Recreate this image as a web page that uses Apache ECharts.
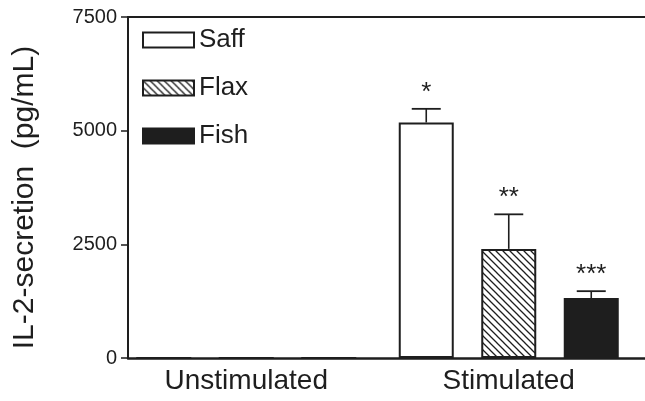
<!DOCTYPE html>
<html>
<head>
<meta charset="utf-8">
<script src="https://cdn.jsdelivr.net/npm/echarts@6/dist/echarts.min.js"></script>
<style>
  html, body { margin: 0; padding: 0; background: #fff; }
  #chart { width: 645px; height: 401px; }
</style>
</head>
<body>
<div id="chart"></div>
<script>
// IL-2 secretion by diet group, unstimulated vs stimulated cells
var categories = ['Unstimulated', 'Stimulated'];
var seriesNames = ['Saff', 'Flax', 'Fish'];
var saffValues = [0, 5180];
var flaxValues = [0, 2400];
var fishValues = [0, 1320];
// upper end of the SEM whisker (null where none is drawn)
var saffErrTop = [null, 5480];
var flaxErrTop = [null, 3160];
var fishErrTop = [null, 1470];
var saffMarks = ['', '*'];
var flaxMarks = ['', '**'];
var fishMarks = ['', '***'];
var yTicks = [0, 2500, 5000, 7500];

var INK = '#1e1e1e';
var BAR_W = 55;
var FONT = 'Liberation Sans, Arial, Helvetica, sans-serif';

// diagonal hatch tile for the Flax bars
function hatchTile() {
  var s = 7;
  var c = document.createElement('canvas');
  c.width = s; c.height = s;
  var g = c.getContext('2d');
  g.fillStyle = '#fff';
  g.fillRect(0, 0, s, s);
  g.strokeStyle = INK;
  g.lineWidth = 1.3;
  g.beginPath();
  g.moveTo(-1, -1); g.lineTo(s + 1, s + 1);
  g.moveTo(s - 1, -1); g.lineTo(s + 1, 1);
  g.moveTo(-1, s - 1); g.lineTo(1, s + 1);
  g.stroke();
  return c;
}
var hatch = { image: hatchTile(), repeat: 'repeat' };

var fills = [
  { color: '#ffffff', borderColor: INK, borderWidth: 2 },
  { color: hatch, borderColor: INK, borderWidth: 2 },
  { color: INK, borderColor: INK, borderWidth: 2 }
];
var valueSets = [saffValues, flaxValues, fishValues];
var errSets = [saffErrTop, flaxErrTop, fishErrTop];
var markSets = [saffMarks, flaxMarks, fishMarks];

var series = [];
seriesNames.forEach(function (name, i) {
  series.push({
    name: name,
    type: 'bar',
    xAxisIndex: 0,
    yAxisIndex: 0,
    barWidth: BAR_W,
    barGap: '50%',
    data: valueSets[i],
    itemStyle: fills[i],
    emphasis: { disabled: true },
    z: 3
  });
});

// whiskers and significance stars, placed on each bar's slot in the band
seriesNames.forEach(function (name, i) {
  var rows = categories.map(function (c, k) {
    return [k, valueSets[i][k], errSets[i][k], markSets[i][k]];
  }).filter(function (r) { return r[2] != null; });
  series.push({
    type: 'custom',
    xAxisIndex: 0,
    yAxisIndex: 0,
    silent: true,
    z: 4,
    data: rows,
    renderItem: function (params, api) {
      var k = api.value(0);
      var base = api.coord([k, api.value(1)]);
      var top = api.coord([k, api.value(2)]);
      var x = base[0] + (i - 1) * BAR_W * 1.5;
      var cap = 14.5;
      var mark = rows[params.dataIndex][3];
      return {
        type: 'group',
        children: [
          { type: 'line', shape: { x1: x, y1: base[1], x2: x, y2: top[1] },
            style: { stroke: INK, lineWidth: 1.6 } },
          { type: 'line', shape: { x1: x - cap, y1: top[1], x2: x + cap, y2: top[1] },
            style: { stroke: INK, lineWidth: 1.8 } },
          { type: 'text', x: x, y: top[1] - 3,
            style: { text: mark, fill: INK, font: '26px ' + FONT,
                     align: 'center', verticalAlign: 'bottom' } }
        ]
      };
    }
  });
});

var chart = echarts.init(document.getElementById('chart'), null, { renderer: 'canvas' });
chart.setOption({
  animation: false,
  backgroundColor: '#fff',
  textStyle: { fontFamily: FONT, color: INK },
  grid: [
    { left: 115, right: 5, top: 17, bottom: 43 },
    { left: 128, right: 0, top: 17, bottom: 43 }
  ],
  legend: {
    orient: 'vertical',
    left: 137,
    top: 22,
    itemWidth: 51,
    itemHeight: 15,
    itemGap: 22,
    icon: 'rect',
    selectedMode: false,
    data: seriesNames,
    textStyle: { fontSize: 26, color: INK, fontFamily: FONT }
  },
  xAxis: [
    {
      type: 'category', gridIndex: 0, data: categories,
      axisLine: { show: false }, axisTick: { show: false },
      axisLabel: { fontSize: 28, color: INK, margin: 9, fontFamily: FONT }
    },
    {
      type: 'category', gridIndex: 1, data: categories, position: 'bottom',
      axisLine: { show: true, lineStyle: { color: INK, width: 2.5 } },
      axisTick: { show: false }, axisLabel: { show: false }
    },
    {
      type: 'category', gridIndex: 1, data: categories, position: 'top',
      axisLine: { show: true, lineStyle: { color: INK, width: 2 } },
      axisTick: { show: false }, axisLabel: { show: false }
    }
  ],
  yAxis: [
    {
      type: 'value', gridIndex: 0, min: yTicks[0], max: yTicks[yTicks.length - 1],
      interval: 2500, show: false
    },
    {
      type: 'value', gridIndex: 1, min: yTicks[0], max: yTicks[yTicks.length - 1],
      interval: 2500,
      name: 'IL-2-secretion  (pg/mL)',
      nameLocation: 'middle',
      nameGap: 88,
      nameTextStyle: { fontSize: 30, color: INK, fontFamily: FONT, padding: [0, 20, 0, 0] },
      axisLine: { show: true, lineStyle: { color: INK, width: 2 } },
      axisTick: { show: true, inside: false, length: 7, lineStyle: { color: INK, width: 1.5 } },
      axisLabel: { fontSize: 20, color: INK, margin: 11, fontFamily: FONT,
                   formatter: function (v) { return String(v); } },
      splitLine: { show: false }
    }
  ],
  series: series
});
</script>
</body>
</html>
